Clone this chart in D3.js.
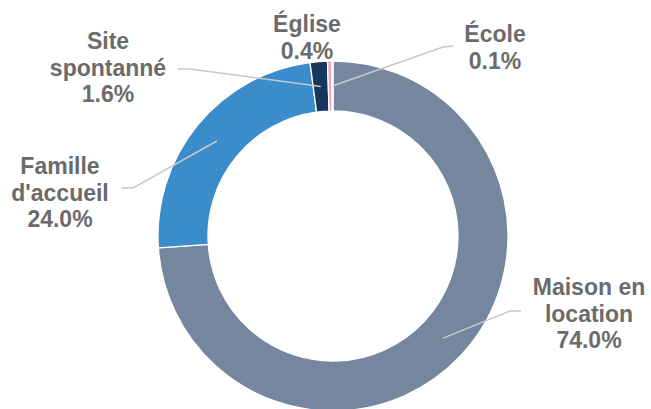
<!DOCTYPE html>
<html>
<head>
<meta charset="utf-8">
<script src="https://cdn.jsdelivr.net/npm/d3@7"></script>
<style>
  body { margin: 0; background: #fff; }
  svg { display: block; }
</style>
</head>
<body>
<div id="chart"></div>
<script>
// données
const categories = ['Maison en location', "Famille d'accueil", 'Site spontanné', 'Église', 'École'];
const label_lines = [['Maison en', 'location'], ['Famille', "d'accueil"], ['Site', 'spontanné'], ['Église'], ['École']];
const values = [74.0, 24.0, 1.6, 0.4, 0.1];
const colors = ['#74879f', '#3a8dca', '#17375e', '#f4a3b2', '#c0504d'];

const WIDTH = 651;
const HEIGHT = 409;
const CX = 333;
const CY = 236;
const R_OUTER = 175;
const R_INNER = 125;
const TEXT_COLOR = '#6b6b6b';
const LINE_COLOR = '#c8c8c8';
const FONT_SIZE = 23;
const LINE_STEP = 26.5;

// label placement: text centre x, first baseline y, leader elbow (or null)
const label_pos = [
  { x: 589, y: 295, elbow: [[521, 311], [510, 311]] },
  { x: 60, y: 174, elbow: [[122, 188], [133, 188]] },
  { x: 108, y: 49, elbow: [[178, 69], [190, 69]] },
  { x: 307, y: 32, elbow: null },
  { x: 495, y: 42, elbow: [[453, 46], [443, 47]] },
];

let svg = d3.select('#chart').append('svg')
  .attr('width', WIDTH)
  .attr('height', HEIGHT);

let pie = d3.pie().sort(null).value((d) => d);
let arcs = pie(values);

let arc = d3.arc().innerRadius(R_INNER).outerRadius(R_OUTER);
let mid_arc = d3.arc().innerRadius(150).outerRadius(150);

let g = svg.append('g')
  .attr('transform', 'translate(' + CX + ',' + CY + ')');

g.selectAll('.slice')
  .data(arcs)
  .enter().append('path')
  .attr('class', 'slice')
  .attr('d', arc)
  .attr('fill', (d, i) => colors[i])
  .attr('stroke', '#fff')
  .attr('stroke-width', 1.3)
;

// leader lines
arcs.forEach((d, i) => {
  let p = label_pos[i];
  if (! p.elbow) return;
  let c = mid_arc.centroid(d);
  let pts = p.elbow.concat([[CX + c[0], CY + c[1]]]);
  svg.append('polyline')
    .attr('points', pts.map((q) => q.join(',')).join(' '))
    .attr('fill', 'none')
    .attr('stroke', LINE_COLOR)
    .attr('stroke-width', 1.5);
});

// labels
arcs.forEach((d, i) => {
  let p = label_pos[i];
  let lines = label_lines[i].concat([values[i].toFixed(1) + '%']);
  let t = svg.append('text')
    .attr('x', p.x)
    .attr('y', p.y)
    .attr('text-anchor', 'middle')
    .attr('font-family', 'Liberation Sans, Arial, sans-serif')
    .attr('font-weight', 'bold')
    .attr('font-size', FONT_SIZE)
    .attr('fill', TEXT_COLOR);
  lines.forEach((l, j) => {
    t.append('tspan')
      .attr('x', p.x)
      .attr('dy', j == 0 ? 0 : LINE_STEP)
      .text(l);
  });
});
</script>
</body>
</html>
